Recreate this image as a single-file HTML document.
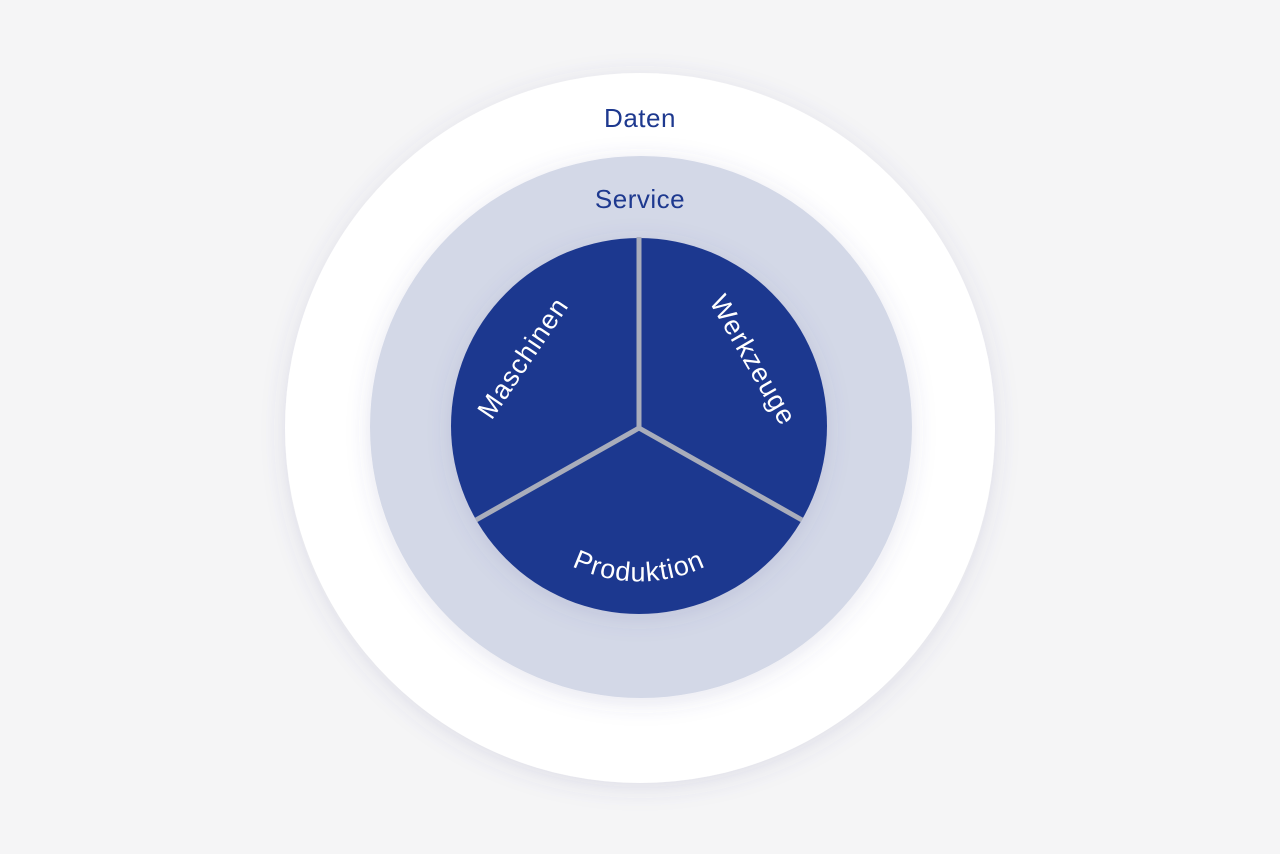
<!DOCTYPE html>
<html><head><meta charset="utf-8"><style>
html,body{margin:0;padding:0;background:#f5f5f6;}
svg{display:block;}
</style></head><body>
<svg width="1280" height="854" viewBox="0 0 1280 854" xmlns="http://www.w3.org/2000/svg">
<defs>
<filter id="sh2" x="-20%" y="-20%" width="140%" height="140%">
<feDropShadow dx="0" dy="4" stdDeviation="12" flood-color="#4a5590" flood-opacity="0.15"/>
</filter>
<path id="prod" d="M 485 444 A 155 155 0 0 0 793 444"/>
</defs>
<rect width="1280" height="854" fill="#f5f5f6"/>
<circle cx="640" cy="428" r="355" fill="#ffffff" filter="url(#sh2)"/>
<circle cx="641" cy="427" r="271" fill="#d3d8e7" filter="url(#sh2)"/>
<circle cx="639" cy="426" r="188" fill="#1e398f" filter="url(#sh2)"/>
<g stroke="#a9adbb" stroke-width="5" stroke-linecap="butt">
<line x1="639" y1="428" x2="639" y2="237"/>
<line x1="639" y1="428" x2="476" y2="520"/>
<line x1="639" y1="428" x2="802" y2="520"/>
</g>
<g font-family="'Liberation Sans', sans-serif" font-size="26" fill="#1e398f" text-anchor="middle" letter-spacing="0.5">
<text x="640" y="127">Daten</text>
<text x="640" y="208">Service</text>
</g>
<g font-family="'Liberation Sans', sans-serif" font-size="27" fill="#ffffff" text-anchor="middle" letter-spacing="1">
<text transform="translate(523,358) rotate(-56)" y="9">Maschinen</text>
<text transform="translate(753,360) rotate(60)" y="9">Werkzeuge</text>
<text><textPath href="#prod" startOffset="50%">Produktion</textPath></text>
</g>
</svg>
</body></html>
